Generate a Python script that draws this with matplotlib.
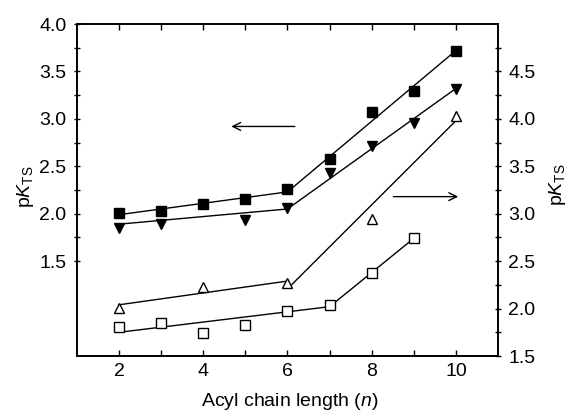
import matplotlib
matplotlib.use("Agg")
import matplotlib.pyplot as plt
import numpy as np

plt.rcParams['font.family'] = ['Liberation Sans', 'DejaVu Sans']
plt.rcParams['mathtext.fontset'] = 'custom'
plt.rcParams['mathtext.rm'] = 'Liberation Sans'
plt.rcParams['mathtext.it'] = 'Liberation Sans:italic'

# Left-axis series
sq_x = [2, 3, 4, 5, 6, 7, 8, 9, 10]
sq_y = [2.01, 2.03, 2.10, 2.15, 2.26, 2.58, 3.07, 3.29, 3.72]
sq_err = [0, 0, 0.03, 0, 0, 0, 0, 0, 0]
sq_fit_x = [[2, 6], [6, 10]]
sq_fit_y = [[1.99, 2.23], [2.23, 3.72]]

tri_x = [2, 3, 5, 6, 7, 8, 9, 10]
tri_y = [1.85, 1.89, 1.93, 2.06, 2.43, 2.71, 2.96, 3.32]
tri_fit_x = [[2, 6], [6, 10]]
tri_fit_y = [[1.89, 2.05], [2.05, 3.32]]

# Right-axis series
otri_x = [2, 4, 6, 8, 10]
otri_y = [2.01, 2.23, 2.27, 2.94, 4.03]
otri_fit_x = [[2, 6], [6.05, 10]]
otri_fit_y = [[2.04, 2.29], [2.23, 3.98]]

osq_x = [2, 3, 4, 5, 6, 7, 8, 9]
osq_y = [1.81, 1.85, 1.74, 1.83, 1.97, 2.04, 2.38, 2.74]
osq_fit_x = [[2, 7], [7, 9]]
osq_fit_y = [[1.75, 2.02], [2.02, 2.74]]

x_ticks = [2, 4, 6, 8, 10]
left_ticks = [1.5, 2.0, 2.5, 3.0, 3.5, 4.0]
right_ticks = [1.5, 2.0, 2.5, 3.0, 3.5, 4.0, 4.5]

fig = plt.figure(figsize=(5.72, 4.11), dpi=100)
ax = fig.add_axes([0.1346, 0.1338, 0.736, 0.8078])
ax2 = ax.twinx()

lw = 1.0
for fx, fy in zip(sq_fit_x, sq_fit_y):
    ax.plot(fx, fy, color='black', lw=lw)
for fx, fy in zip(tri_fit_x, tri_fit_y):
    ax.plot(fx, fy, color='black', lw=lw)
ax.errorbar(sq_x, sq_y, yerr=sq_err, fmt='s', color='black', ms=6.5,
            capsize=3, elinewidth=1, capthick=1, zorder=3)
ax.plot(tri_x, tri_y, 'v', color='black', ms=7, zorder=3)

for fx, fy in zip(otri_fit_x, otri_fit_y):
    ax2.plot(fx, fy, color='black', lw=lw)
for fx, fy in zip(osq_fit_x, osq_fit_y):
    ax2.plot(fx, fy, color='black', lw=lw)
ax2.plot(otri_x, otri_y, '^', mfc='white', mec='black', mew=1.0, ms=7, zorder=3)
ax2.plot(osq_x, osq_y, 's', mfc='white', mec='black', mew=1.0, ms=7, zorder=3)

ax.set_xlim(1, 11)
ax.set_ylim(0.5, 4.0)
ax2.set_ylim(1.5, 5.0)

ax.set_xticks(x_ticks)
ax.set_xticks([3, 5, 7, 9], minor=True)
ax.set_yticks(left_ticks)
ax.set_yticks(np.arange(1.75, 4.0, 0.5), minor=True)
ax2.set_yticks(right_ticks)
ax2.set_yticks(np.arange(1.75, 5.0, 0.5), minor=True)

fs = 14
ax.tick_params(axis='x', which='both', direction='in', top=True, length=4, width=1,
               labelsize=fs, pad=5)
ax.tick_params(axis='y', which='both', direction='inout', length=5, width=1,
               labelsize=fs, pad=5)
ax2.tick_params(axis='y', which='both', direction='inout', length=5, width=1,
                labelsize=fs, pad=5)

for a in (ax, ax2):
    for s in a.spines.values():
        s.set_linewidth(1.2)

ax.set_xlabel(r"Acyl chain length $\mathit{(n)}$", fontsize=fs)
ax.xaxis.set_label_coords(0.506, -0.105)
fig.text(0.045, 0.545, r"p$K_{\mathrm{TS}}$", rotation=90, fontsize=fs,
         ha='center', va='center')
fig.text(0.975, 0.55, r"p$K_{\mathrm{TS}}$", rotation=90, fontsize=fs,
         ha='center', va='center')

ax.annotate('', xy=(4.6, 2.92), xytext=(6.24, 2.92),
            arrowprops=dict(arrowstyle='->', color='black', lw=1.0,
                            mutation_scale=14))
ax.annotate('', xy=(10.12, 2.18), xytext=(8.45, 2.18),
            arrowprops=dict(arrowstyle='->', color='black', lw=1.0,
                            mutation_scale=14))

fig.savefig("out.png", dpi=100)
